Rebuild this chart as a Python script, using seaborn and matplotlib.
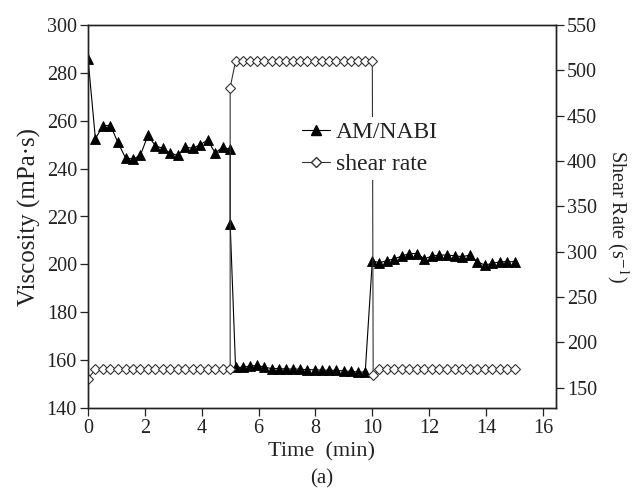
import matplotlib
matplotlib.use('Agg')
import matplotlib.pyplot as plt
import seaborn as sns
from matplotlib.lines import Line2D

# ---------------- data ----------------
visc_time = [0, 0.26, 0.53, 0.79, 1.05, 1.32, 1.58, 1.84, 2.11, 2.37, 2.63, 2.89, 3.16, 3.42,
             3.68, 3.95, 4.21, 4.47, 4.74, 5.0, 5.0,
             5.19, 5.44, 5.70, 5.95, 6.20, 6.46, 6.71, 6.96, 7.22, 7.47, 7.72, 7.97, 8.23,
             8.48, 8.73, 8.99, 9.24, 9.49, 9.75,
             10.0, 10.25, 10.5, 10.77, 11.04, 11.3, 11.57, 11.83, 12.1, 12.36, 12.63, 12.9,
             13.16, 13.43, 13.69, 13.96, 14.22, 14.49, 14.75, 15.02]
viscosity = [286, 252.5, 258, 258, 251, 244.5, 244, 245.5, 254, 249.5, 248.5, 246.5, 245.5, 249,
             248.5, 250, 252, 246.5, 249, 248, 217,
             157, 157, 157.5, 157.8, 157, 156.5, 156.5, 156.3, 156.3, 156.2, 156, 156, 155.8,
             155.8, 155.7, 155.5, 155.3, 155, 155,
             201.5, 200.7, 201.5, 202.3, 203.5, 204.5, 204.5, 202.3, 203.5, 203.9, 203.9, 203.6,
             203.2, 203.9, 201.1, 199.7, 200.4, 201.1, 201.1, 201.1]

shear_time = [0, 0.26, 0.53, 0.79, 1.05, 1.32, 1.58, 1.84, 2.11, 2.37, 2.63, 2.89, 3.16, 3.42,
              3.68, 3.95, 4.21, 4.47, 4.74, 5.0, 5.0,
              5.19, 5.44, 5.70, 5.95, 6.20, 6.46, 6.71, 6.96, 7.22, 7.47, 7.72, 7.97, 8.23,
              8.48, 8.73, 8.99, 9.24, 9.49, 9.75, 10.0, 10.03,
              10.25, 10.5, 10.77, 11.04, 11.3, 11.57, 11.83, 12.1, 12.36, 12.63, 12.9,
              13.16, 13.43, 13.69, 13.96, 14.22, 14.49, 14.75, 15.02]
shear_rate = [160, 170, 170, 170, 170, 170, 171, 170, 170, 170, 170, 170, 170, 170,
              170, 170, 170, 170, 170, 170, 481,
              510, 510, 510, 510, 510, 510, 510, 510, 510, 510, 510, 510, 510,
              510, 510, 510, 510, 510, 510, 510, 164,
              170, 170, 170, 170, 170, 170, 170, 170, 170, 170, 170,
              170, 170, 170, 170, 170, 170, 170, 170]

x_ticks = [0, 2, 4, 6, 8, 10, 12, 14, 16]
visc_ticks = [140, 160, 180, 200, 220, 240, 260, 280, 300]
shear_ticks = [150, 200, 250, 300, 350, 400, 450, 500, 550]
series_labels = ["AM/NABI", "shear rate"]

# ---------------- style ----------------
sns.set_theme(style='ticks')
plt.rcParams['font.family'] = ['Liberation Serif', 'DejaVu Serif']
plt.rcParams['mathtext.fontset'] = 'stix'

TXT = '#222222'
fig = plt.figure(figsize=(6.34, 4.94), dpi=100)
ax = fig.add_axes([88 / 634, 1 - 408 / 494, (556 - 88) / 634, (408 - 25) / 494])
ax2 = ax.twinx()

sns.lineplot(x=visc_time, y=viscosity, ax=ax, estimator=None, sort=False,
             color='black', linewidth=0.8, marker='^', markersize=7.5,
             markerfacecolor='black', markeredgecolor='black', markeredgewidth=0.6)
sns.lineplot(x=shear_time, y=shear_rate, ax=ax2, estimator=None, sort=False,
             color='#333333', linewidth=0.8, marker='D', markersize=5.2,
             markerfacecolor='white', markeredgecolor='#333333', markeredgewidth=0.8)

ax.set_xlim(0, 16.46)
ax.set_ylim(140, 300)
ax2.set_ylim(127.5, 550)
ax.set_xticks(x_ticks)
ax.set_xticklabels([str(v) for v in x_ticks])
ax.set_yticks(visc_ticks)
ax2.set_yticks(shear_ticks)

for a in (ax, ax2):
    for s in a.spines.values():
        s.set_linewidth(1.0)
        s.set_color(TXT)
    a.tick_params(direction='out', length=6, width=0.9, colors=TXT,
                  labelsize=14.5, labelcolor=TXT, pad=2)
    a.grid(False)

ax.set_xlabel('Time  (min)', fontsize=16, color=TXT, labelpad=3)
ax.set_ylabel('Viscosity (mPa·s)', fontsize=18, color=TXT, labelpad=4)
ax2.set_ylabel('Shear Rate (s$^{-1}$)', fontsize=14.5, color=TXT, rotation=270, labelpad=24)

fig.text(322 / 634, 1 - 479 / 494, '(a)', ha='center', va='center', fontsize=15, color=TXT)

handles = [
    Line2D([], [], color='black', linewidth=0.8, marker='^', markersize=7.5,
           markerfacecolor='black', markeredgecolor='black'),
    Line2D([], [], color='#333333', linewidth=0.8, marker='D', markersize=5.2,
           markerfacecolor='white', markeredgecolor='#333333'),
]
leg = ax2.legend(handles, series_labels, loc='upper left', bbox_to_anchor=(0.422, 0.79),
                 frameon=True, fontsize=17, handlelength=1.2, handletextpad=0.25,
                 labelspacing=0.42, borderpad=0.2)
leg.get_frame().set_edgecolor('none')
leg.get_frame().set_facecolor('white')
leg.get_frame().set_alpha(1)
for t in leg.get_texts():
    t.set_color(TXT)

fig.savefig('out.png', dpi=100)
